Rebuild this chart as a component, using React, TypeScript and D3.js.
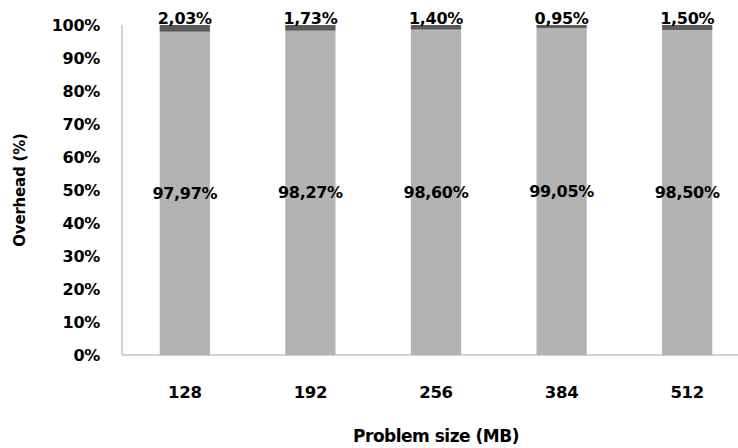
import React from "react";
import * as d3 from "d3";

// Problem sizes (MB) and the split of each run into useful work vs. overhead
const categories = ["128", "192", "256", "384", "512"];
const workShare = [97.97, 98.27, 98.6, 99.05, 98.5];
const overheadShare = [2.03, 1.73, 1.4, 0.95, 1.5];
const yTicks = [0, 10, 20, 30, 40, 50, 60, 70, 80, 90, 100];

const W = 738;
const H = 448;
const FONT = "'DejaVu Sans', Verdana, sans-serif";

const fmt = (v: number) => v.toFixed(2).replace(".", ",") + "%";

export default function App() {
  const x = d3.scaleBand<string>().domain(categories).range([122, 750]).paddingInner(0.6).paddingOuter(0.3);
  const y = d3.scaleLinear().domain([0, 100]).range([355, 25]);

  const label = { fontFamily: FONT, fontWeight: "bold" as const, fontSize: 16, fill: "#000", letterSpacing: -0.3 };

  return (
    <svg width={W} height={H} style={{ position: "absolute", left: 0, top: 0, background: "#fff" }}>
      {/* y-axis line and baseline */}
      <line x1={122} x2={122} y1={y(100)} y2={y(0)} stroke="#a6a6a6" strokeWidth={1} />
      <line x1={122} x2={750} y1={y(0)} y2={y(0)} stroke="#a6a6a6" strokeWidth={1} />

      {yTicks.map((t) => (
        <text key={t} x={100} y={y(t)} dy="0.35em" textAnchor="end" {...label}>
          {t}%
        </text>
      ))}

      {categories.map((c, i) => {
        const x0 = x(c)!;
        const bw = x.bandwidth();
        const cx = x0 + bw / 2;
        const wTop = y(workShare[i]);
        const oTop = y(workShare[i] + overheadShare[i]);
        return (
          <g key={c}>
            <rect x={x0} y={wTop} width={bw} height={y(0) - wTop} fill="#b3b3b3" />
            <rect x={x0} y={oTop} width={bw} height={wTop - oTop} fill="#5a5a5a" />
            <text x={cx} y={(wTop + y(0)) / 2} dy="0.35em" textAnchor="middle" {...label}>
              {fmt(workShare[i])}
            </text>
            <text x={cx} y={oTop - 1} textAnchor="middle" {...label}>
              {fmt(overheadShare[i])}
            </text>
            <text x={cx} y={392} dy="0.35em" textAnchor="middle" {...label} fontSize={16.5}>
              {c}
            </text>
          </g>
        );
      })}

      <text x={436} y={436} dy="0.35em" textAnchor="middle" {...label} fontSize={17} letterSpacing={-0.5}>
        Problem size (MB)
      </text>
      <text transform={`translate(20,${(y(0) + y(100)) / 2}) rotate(-90)`} dy="0.35em" textAnchor="middle" {...label} fontSize={15} letterSpacing={-0.2}>
        Overhead (%)
      </text>
    </svg>
  );
}
